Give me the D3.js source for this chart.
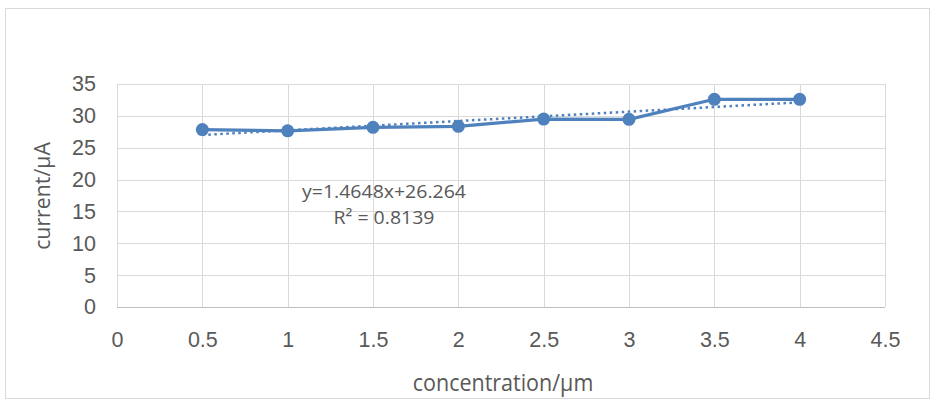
<!DOCTYPE html>
<html><head><meta charset="utf-8">
<script src="https://cdn.jsdelivr.net/npm/d3@7"></script>
<style>body{margin:0;background:#fff}svg{display:block}</style>
</head><body>
<script>
const concentration = [0.5, 1, 1.5, 2, 2.5, 3, 3.5, 4];
const current = [27.85, 27.65, 28.2, 28.35, 29.5, 29.45, 32.6, 32.6];
const xTicks = [0, 0.5, 1, 1.5, 2, 2.5, 3, 3.5, 4, 4.5];
const yTicks = [0, 5, 10, 15, 20, 25, 30, 35];
const trendSlope = [1.4648];
const trendIntercept = [26.264];
const equationLines = ["y=1.4648x+26.264", "R² = 0.8139"];
const xTitle = "concentration/µm";
const yTitle = "current/μA";

const W = 933, H = 406;
const m = {left:117, right:933-885, top:84, bottom:406-307};
const svg = d3.select("body").append("svg").attr("width", W).attr("height", H);
svg.append("rect").attr("x",5.5).attr("y",8.5).attr("width",924).attr("height",390)
  .attr("fill","#fff").attr("stroke","#d9d9d9").attr("stroke-width",1);

const x = d3.scaleLinear().domain([0,4.5]).range([m.left, W-m.right]);
const y = d3.scaleLinear().domain([0,35]).range([H-m.bottom, m.top]);
const blue = "#4F81BD", grid = "#d9d9d9", txt = "#595959";
const tickFont = "'Liberation Sans',Arial,sans-serif";
const labFont = "'Open Sans',sans-serif";

// gridlines
svg.append("g").selectAll("line").data(yTicks).join("line")
  .attr("x1", x(0)).attr("x2", x(4.5)).attr("y1", d=>Math.round(y(d))+0.5).attr("y2", d=>Math.round(y(d))+0.5)
  .attr("stroke", grid).attr("stroke-width",1);
svg.append("g").selectAll("line").data(xTicks).join("line")
  .attr("y1", y(0)).attr("y2", y(35)).attr("x1", d=>Math.round(x(d))+0.5).attr("x2", d=>Math.round(x(d))+0.5)
  .attr("stroke", grid).attr("stroke-width",1);

// axes
const xAxis = svg.append("g").attr("transform",`translate(0,${y(0)})`)
  .call(d3.axisBottom(x).tickValues(xTicks).tickSize(0).tickPadding(25).tickFormat(d=>String(d)));
const yAxis = svg.append("g").attr("transform",`translate(${x(0)},0)`)
  .call(d3.axisLeft(y).tickValues(yTicks).tickSize(0).tickPadding(21).tickFormat(d=>String(d)));
[xAxis,yAxis].forEach(a=>{
  a.select(".domain").remove();
  a.selectAll("text").attr("fill",txt).style("font-family",tickFont).style("font-size","21.5px");
});
xAxis.append("line").attr("x1",x(0)).attr("x2",x(4.5)).attr("y1",0.5).attr("y2",0.5).attr("stroke","#bfbfbf");

// trendline
const tx = [0.5, 4];
svg.append("line")
  .attr("x1", x(tx[0])).attr("y1", y(trendIntercept[0]+trendSlope[0]*tx[0]))
  .attr("x2", x(tx[1])).attr("y2", y(trendIntercept[0]+trendSlope[0]*tx[1]))
  .attr("stroke", blue).attr("stroke-width",2.5).attr("stroke-dasharray","2.5,3.5");

// series line
const pts = concentration.map((c,i)=>[c,current[i]]);
svg.append("path").datum(pts)
  .attr("d", d3.line().x(d=>x(d[0])).y(d=>y(d[1])))
  .attr("fill","none").attr("stroke",blue).attr("stroke-width",3.2).attr("stroke-linejoin","round");
svg.append("g").selectAll("circle").data(pts).join("circle")
  .attr("cx",d=>x(d[0])).attr("cy",d=>y(d[1])).attr("r",6.5).attr("fill",blue);

// equation
svg.append("g").selectAll("text").data(equationLines).join("text")
  .attr("transform",(d,i)=>`translate(384,${198+i*26}) scale(1,0.95)`).attr("text-anchor","middle")
  .attr("fill",txt).style("font-family",labFont).style("font-size","19.5px")
  .text(d=>d);

// titles
svg.append("text").attr("transform",`translate(503,391) scale(1,1.08)`).attr("text-anchor","middle")
  .attr("fill",txt).style("font-family",labFont).style("font-size","21.5px").text(xTitle);
svg.append("text").attr("transform",`translate(50,196) rotate(-90)`).attr("text-anchor","middle")
  .attr("fill",txt).style("font-family",labFont).style("font-size","21.3px").text(yTitle);
</script>
</body></html>
